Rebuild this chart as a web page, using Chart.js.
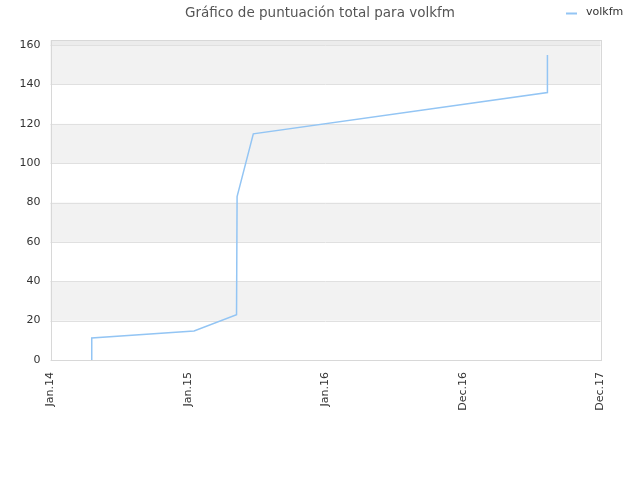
<!DOCTYPE html>
<html>
<head>
<meta charset="utf-8">
<script src="https://cdn.jsdelivr.net/npm/chart.js@4/dist/chart.umd.min.js"></script>
<style>
html,body{margin:0;padding:0;background:#fff;}
#wrap{width:640px;height:480px;position:relative;}
</style>
</head>
<body>
<div id="wrap"><canvas id="c" width="640" height="480"></canvas></div>
<script>
const chartTitle = "Gráfico de puntuación total para volkfm";
const seriesName = "volkfm";
const xTickLabels = ["Jan.14", "Jan.15", "Jan.16", "Dec.16", "Dec.17"];
const xPositions = [0.30, 0.30, 1.044, 1.353, 1.357, 1.475, 3.614, 3.614];
const scoreValues = [0, 11.2, 14.7, 23.0, 83.0, 114.9, 135.9, 155];
const yTickValues = [0, 20, 40, 60, 80, 100, 120, 140, 160];
const bandRanges = [[20, 40], [60, 80], [100, 120], [140, 160]];

const lineColor = '#93c5f4';
const FONT = 'DejaVu Sans';

const bandsPlugin = {
  id: 'bands',
  beforeDatasetsDraw(chart) {
    const {ctx, chartArea, scales} = chart;
    const y = scales.y;
    ctx.save();
    ctx.fillStyle = '#f2f2f2';
    bandRanges.forEach(([a, b]) => {
      const top = y.getPixelForValue(b), bot = y.getPixelForValue(a);
      ctx.fillRect(chartArea.left, top, chartArea.right - chartArea.left, bot - top);
    });
    const t160 = y.getPixelForValue(160);
    ctx.fillStyle = '#ececec';
    ctx.fillRect(chartArea.left, chartArea.top, chartArea.right - chartArea.left, t160 - chartArea.top);
    ctx.strokeStyle = '#e0e0e0';
    ctx.lineWidth = 1;
    yTickValues.forEach(v => {
      const py = Math.round(y.getPixelForValue(v)) + 0.5;
      ctx.beginPath();
      ctx.moveTo(chartArea.left, py);
      ctx.lineTo(chartArea.right, py);
      ctx.stroke();
    });
    ctx.strokeStyle = '#d8d8d8';
    ctx.strokeRect(Math.round(chartArea.left) + 0.5, Math.round(chartArea.top) + 0.5,
      Math.round(chartArea.right - chartArea.left), Math.round(chartArea.bottom - chartArea.top));
    ctx.restore();
  }
};

const legendPlugin = {
  id: 'customLegend',
  afterDraw(chart) {
    const ctx = chart.ctx;
    ctx.save();
    ctx.strokeStyle = lineColor;
    ctx.lineWidth = 2;
    ctx.beginPath();
    ctx.moveTo(566, 13.5);
    ctx.lineTo(577, 13.5);
    ctx.stroke();
    ctx.fillStyle = '#333';
    ctx.font = '11px "' + FONT + '"';
    ctx.textBaseline = 'middle';
    ctx.textAlign = 'left';
    ctx.fillText(seriesName, 586, 12.5);
    ctx.restore();
  }
};

new Chart(document.getElementById('c'), {
  type: 'line',
  data: {
    datasets: [{
      label: seriesName,
      data: xPositions.map((x, i) => ({x: x, y: scoreValues[i]})),
      borderColor: lineColor,
      backgroundColor: lineColor,
      borderWidth: 1.5,
      pointRadius: 0,
      tension: 0,
      fill: false,
      yAxisID: 'y'
    }]
  },
  options: {
    responsive: false,
    animation: false,
    devicePixelRatio: 1,
    layout: {padding: 0},
    plugins: {
      legend: {display: false},
      tooltip: {enabled: false},
      title: {
        display: true,
        text: chartTitle,
        color: '#555',
        font: {family: FONT, size: 13.5, weight: 'normal'},
        padding: {top: 5, bottom: 19}
      }
    },
    scales: {
      x: {
        type: 'linear',
        min: 0,
        max: 4,
        afterBuildTicks(scale) {
          scale.ticks = xTickLabels.map((_, i) => ({value: i}));
        },
        afterFit(scale) { scale.height = 120; },
        ticks: {
          callback: (v) => xTickLabels[v] ?? '',
          minRotation: 90,
          maxRotation: 90,
          autoSkip: false,
          padding: 12,
          color: '#333',
          font: {family: FONT, size: 11}
        },
        grid: {display: false, drawTicks: false},
        border: {display: false}
      },
      y: {
        min: 0,
        max: 162.5,
        afterBuildTicks(scale) {
          scale.ticks = yTickValues.map(v => ({value: v}));
        },
        afterFit(scale) { scale.width = 50.5; },
        ticks: {
          padding: 10,
          color: '#333',
          font: {family: FONT, size: 11}
        },
        grid: {display: false, drawTicks: false},
        border: {display: false}
      },
      yRight: {
        position: 'right',
        display: true,
        afterFit(scale) { scale.width = 39.5; },
        ticks: {display: false},
        grid: {display: false, drawTicks: false},
        border: {display: false}
      }
    }
  },
  plugins: [bandsPlugin, legendPlugin]
});
</script>
</body>
</html>
